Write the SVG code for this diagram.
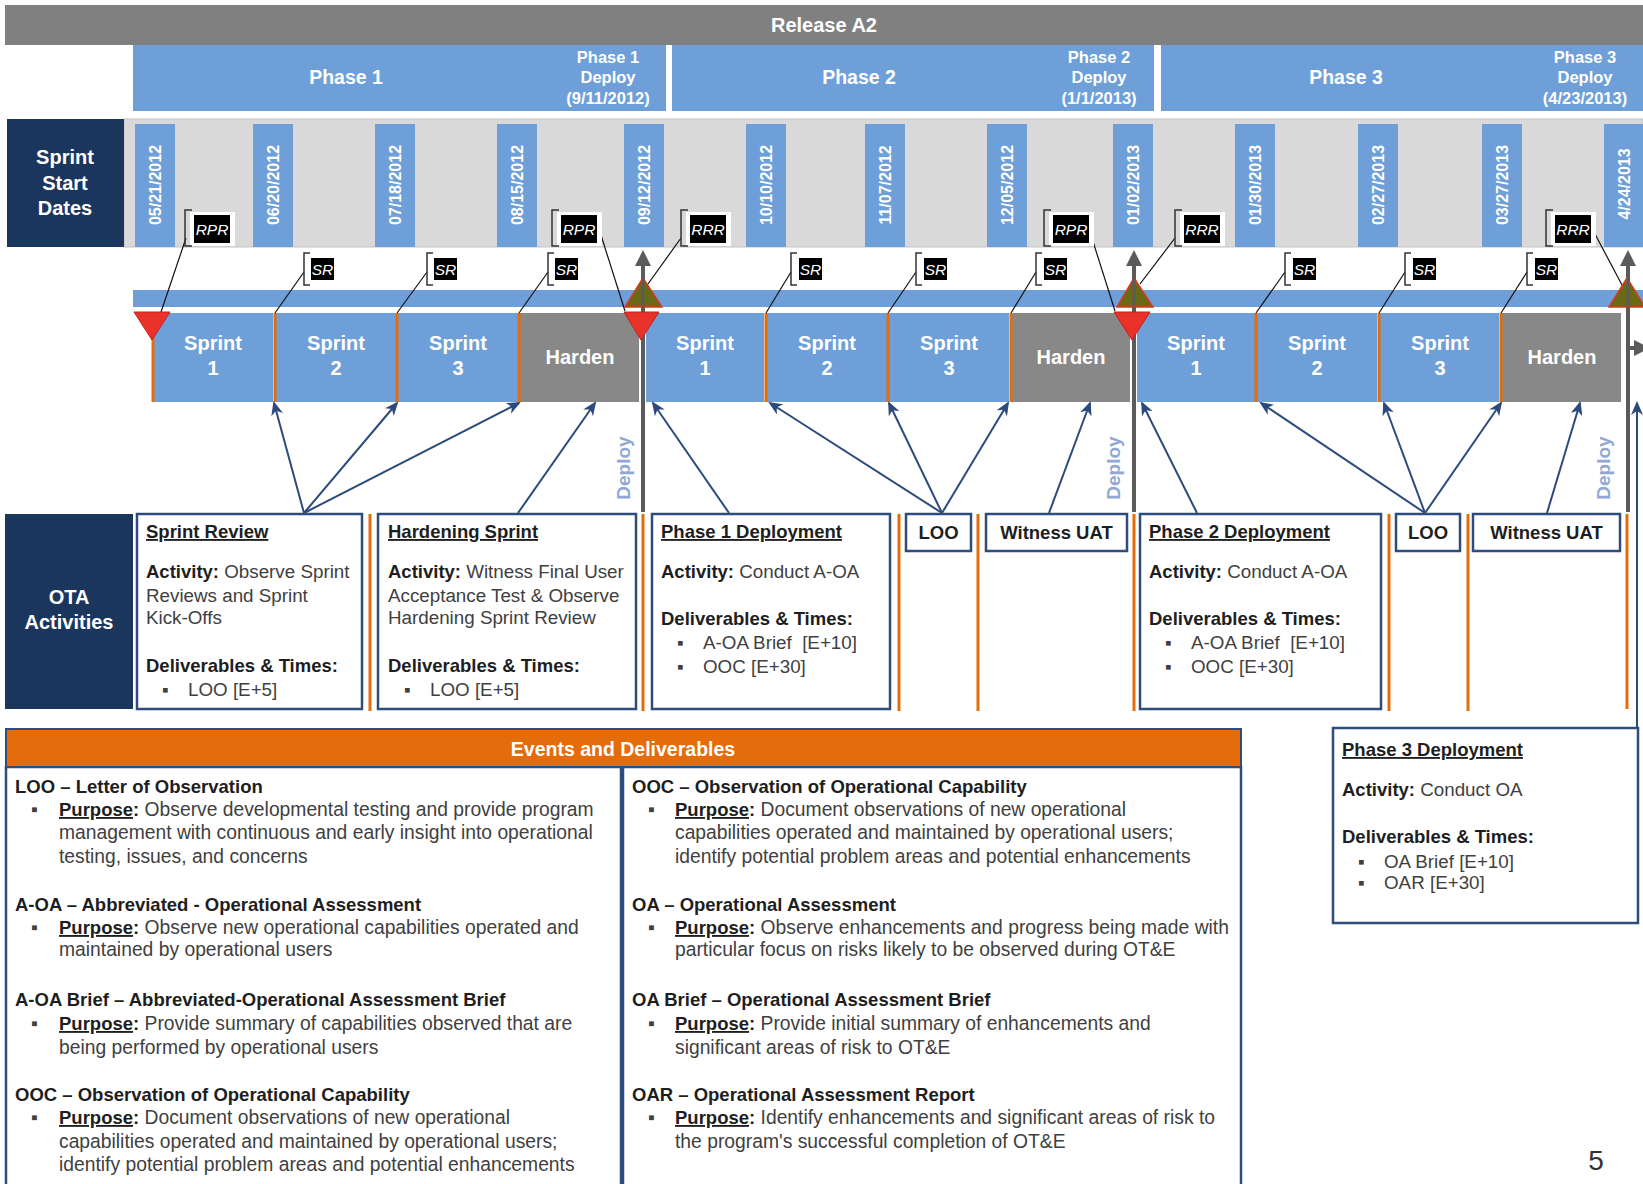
<svg xmlns="http://www.w3.org/2000/svg" width="1643" height="1184" viewBox="0 0 1643 1184">
<defs>
<style>
text{font-family:"Liberation Sans",Arial,"DejaVu Sans",sans-serif}
.wb{fill:#fff;font-weight:bold}
.ph{font-size:19.5px;text-anchor:middle}
.pd{font-size:16.5px;text-anchor:middle}
.hd{font-size:20px;text-anchor:middle}
.dt{font-size:16px;text-anchor:middle}
.sp{font-size:20px;text-anchor:middle}
.lab{fill:#fff;font-style:italic;font-size:15.5px;text-anchor:middle}
.brk{fill:none;stroke:#333;stroke-width:1.5}
.ll{stroke:#111;stroke-width:1.2;fill:none}
.blue{fill:#6e9fd9}
.hard{fill:#888888}
.box{fill:#fff;stroke:#2e4c7d;stroke-width:2.5}
.or{stroke:#e46c0a;stroke-width:3}
.ar{stroke:#2c4a7c;stroke-width:2;fill:none;marker-end:url(#ah)}
.dp{stroke:#5b5b5b;stroke-width:4;marker-end:url(#gh)}
.tx{font-size:18.8px;fill:#404040}
.tl{font-size:19.3px;fill:#404040}
.b{font-weight:bold;fill:#1e1e1e;font-size:18.5px}
.u{text-decoration:underline}
.c{text-anchor:middle}
.dep{font-size:19px;font-weight:bold;fill:#8fa9d4;text-anchor:middle}
.red{fill:#e8322a;stroke:#c8201a;stroke-width:1}
.olv{fill:#6b6a14;stroke:#d83a1f;stroke-width:1.5}
</style>
<marker id="ah" markerWidth="14" markerHeight="12" refX="12" refY="6" orient="auto" markerUnits="userSpaceOnUse"><path d="M0,0 L14,6 L0,12 L4,6 z" fill="#2c4a7c"/></marker>
<marker id="gh" markerWidth="16" markerHeight="16" refX="6" refY="8" orient="auto" markerUnits="userSpaceOnUse"><path d="M0,0 L16,8 L0,16 z" fill="#5b5b5b"/></marker>
</defs>
<rect width="1643" height="1184" fill="#fff"/>

<g id="release">
<rect x="5" y="5" width="1638" height="40" fill="#808080"/>
<text x="824" y="32" class="wb hd">Release A2</text>
</g>

<g id="phase1">
<rect x="133" y="45" width="533" height="66" class="blue"/>
<text x="346" y="84" class="wb ph">Phase 1</text>
<text class="wb pd"><tspan x="608" y="63">Phase 1</tspan><tspan x="608" y="83">Deploy</tspan><tspan x="608" y="104">(9/11/2012)</tspan></text>
</g>
<g id="phase2">
<rect x="672" y="45" width="482" height="66" class="blue"/>
<text x="859" y="84" class="wb ph">Phase 2</text>
<text class="wb pd"><tspan x="1099" y="63">Phase 2</tspan><tspan x="1099" y="83">Deploy</tspan><tspan x="1099" y="104">(1/1/2013)</tspan></text>
</g>
<g id="phase3">
<rect x="1161" y="45" width="482" height="66" class="blue"/>
<text x="1346" y="84" class="wb ph">Phase 3</text>
<text class="wb pd"><tspan x="1585" y="63">Phase 3</tspan><tspan x="1585" y="83">Deploy</tspan><tspan x="1585" y="104">(4/23/2013)</tspan></text>
</g>

<g id="sprint-start-dates">
<rect x="124" y="119" width="1519" height="128" fill="#d9d9d9" stroke="#c4c4c4" stroke-width="1"/>
<rect x="7" y="119" width="117" height="128" fill="#1b365d"/>
<text class="wb hd"><tspan x="65" y="164">Sprint</tspan><tspan x="65" y="190">Start</tspan><tspan x="65" y="215">Dates</tspan></text>
</g>

<g id="dates">
<rect x="135" y="124" width="40" height="123" class="blue"/>
<rect x="253" y="124" width="40" height="123" class="blue"/>
<rect x="375" y="124" width="40" height="123" class="blue"/>
<rect x="497" y="124" width="40" height="123" class="blue"/>
<rect x="624" y="124" width="40" height="123" class="blue"/>
<rect x="746" y="124" width="40" height="123" class="blue"/>
<rect x="865" y="124" width="40" height="123" class="blue"/>
<rect x="987" y="124" width="40" height="123" class="blue"/>
<rect x="1113" y="124" width="40" height="123" class="blue"/>
<rect x="1235" y="124" width="40" height="123" class="blue"/>
<rect x="1358" y="124" width="40" height="123" class="blue"/>
<rect x="1482" y="124" width="40" height="123" class="blue"/>
<rect x="1604" y="124" width="40" height="123" class="blue"/>
<text class="wb dt" transform="translate(161,185) rotate(-90)">05/21/2012</text>
<text class="wb dt" transform="translate(279,185) rotate(-90)">06/20/2012</text>
<text class="wb dt" transform="translate(401,185) rotate(-90)">07/18/2012</text>
<text class="wb dt" transform="translate(523,185) rotate(-90)">08/15/2012</text>
<text class="wb dt" transform="translate(650,185) rotate(-90)">09/12/2012</text>
<text class="wb dt" transform="translate(772,185) rotate(-90)">10/10/2012</text>
<text class="wb dt" transform="translate(891,185) rotate(-90)">11/07/2012</text>
<text class="wb dt" transform="translate(1013,185) rotate(-90)">12/05/2012</text>
<text class="wb dt" transform="translate(1139,185) rotate(-90)">01/02/2013</text>
<text class="wb dt" transform="translate(1261,185) rotate(-90)">01/30/2013</text>
<text class="wb dt" transform="translate(1384,185) rotate(-90)">02/27/2013</text>
<text class="wb dt" transform="translate(1508,185) rotate(-90)">03/27/2013</text>
<text class="wb dt" transform="translate(1630,184) rotate(-90)">4/24/2013</text>
</g>

<g id="timeline">
<rect x="133" y="290" width="1510" height="17" class="blue"/>
</g>

<g id="sprints">
<rect x="152" y="313" width="121" height="89" class="blue"/>
<rect x="275" y="313" width="121" height="89" class="blue"/>
<rect x="398" y="313" width="120" height="89" class="blue"/>
<rect x="520" y="313" width="119" height="89" class="hard"/>
<rect x="646" y="313" width="118" height="89" class="blue"/>
<rect x="767" y="313" width="120" height="89" class="blue"/>
<rect x="889" y="313" width="120" height="89" class="blue"/>
<rect x="1012" y="313" width="118" height="89" class="hard"/>
<rect x="1137" y="313" width="118" height="89" class="blue"/>
<rect x="1257" y="313" width="120" height="89" class="blue"/>
<rect x="1380" y="313" width="119" height="89" class="blue"/>
<rect x="1502" y="313" width="119" height="89" class="hard"/>
<g class="or">
<line x1="153" y1="313" x2="153" y2="402"/>
<line x1="275" y1="313" x2="275" y2="402"/>
<line x1="397" y1="313" x2="397" y2="402"/>
<line x1="519" y1="313" x2="519" y2="402"/>
<line x1="766" y1="313" x2="766" y2="402"/>
<line x1="888" y1="313" x2="888" y2="402"/>
<line x1="1011" y1="313" x2="1011" y2="402"/>
<line x1="1256" y1="313" x2="1256" y2="402"/>
<line x1="1379" y1="313" x2="1379" y2="402"/>
<line x1="1501" y1="313" x2="1501" y2="402"/>
</g>
<text class="wb sp"><tspan x="213" y="350">Sprint</tspan><tspan x="213" y="375">1</tspan></text>
<text class="wb sp"><tspan x="336" y="350">Sprint</tspan><tspan x="336" y="375">2</tspan></text>
<text class="wb sp"><tspan x="458" y="350">Sprint</tspan><tspan x="458" y="375">3</tspan></text>
<text x="580" y="364" class="wb sp">Harden</text>
<text class="wb sp"><tspan x="705" y="350">Sprint</tspan><tspan x="705" y="375">1</tspan></text>
<text class="wb sp"><tspan x="827" y="350">Sprint</tspan><tspan x="827" y="375">2</tspan></text>
<text class="wb sp"><tspan x="949" y="350">Sprint</tspan><tspan x="949" y="375">3</tspan></text>
<text x="1071" y="364" class="wb sp">Harden</text>
<text class="wb sp"><tspan x="1196" y="350">Sprint</tspan><tspan x="1196" y="375">1</tspan></text>
<text class="wb sp"><tspan x="1317" y="350">Sprint</tspan><tspan x="1317" y="375">2</tspan></text>
<text class="wb sp"><tspan x="1440" y="350">Sprint</tspan><tspan x="1440" y="375">3</tspan></text>
<text x="1562" y="364" class="wb sp">Harden</text>
</g>

<g id="connectors">
<g class="dp">
<line x1="643" y1="512" x2="643" y2="260"/>
<line x1="1134" y1="512" x2="1134" y2="260"/>
<line x1="1628" y1="512" x2="1628" y2="260"/>
<line x1="1630" y1="348" x2="1640" y2="348"/>
</g>
<g class="ll">
<line x1="186" y1="238" x2="161" y2="312"/>
<line x1="600" y1="232" x2="625" y2="311"/>
<line x1="681" y1="238" x2="648" y2="284"/>
<line x1="1090" y1="232" x2="1115" y2="311"/>
<line x1="1175" y1="238" x2="1140" y2="284"/>
<line x1="1595" y1="234" x2="1622" y2="285"/>
<line x1="304" y1="272" x2="275" y2="313"/>
<line x1="427" y1="272" x2="397" y2="313"/>
<line x1="548" y1="272" x2="519" y2="313"/>
<line x1="791" y1="272" x2="766" y2="313"/>
<line x1="916" y1="272" x2="888" y2="313"/>
<line x1="1036" y1="272" x2="1011" y2="313"/>
<line x1="1285" y1="272" x2="1256" y2="313"/>
<line x1="1405" y1="272" x2="1379" y2="313"/>
<line x1="1527" y1="272" x2="1501" y2="313"/>
</g>
<g class="ar">
<line x1="304" y1="513" x2="274" y2="403"/>
<line x1="304" y1="513" x2="397" y2="403"/>
<line x1="304" y1="513" x2="519" y2="403"/>
<line x1="518" y1="513" x2="595" y2="403"/>
<line x1="729" y1="513" x2="653" y2="403"/>
<line x1="942" y1="513" x2="770" y2="403"/>
<line x1="942" y1="513" x2="889" y2="403"/>
<line x1="942" y1="513" x2="1008" y2="403"/>
<line x1="1049" y1="513" x2="1090" y2="403"/>
<line x1="1197" y1="513" x2="1142" y2="403"/>
<line x1="1425" y1="513" x2="1261" y2="403"/>
<line x1="1425" y1="513" x2="1384" y2="403"/>
<line x1="1425" y1="513" x2="1501" y2="403"/>
<line x1="1547" y1="513" x2="1580" y2="403"/>
<line x1="1637" y1="728" x2="1637" y2="403"/>
</g>
</g>

<g id="milestones">
<polygon points="134,312 170,312 152,340" class="red"/>
<polygon points="624,312 659,312 641,340" class="red"/>
<polygon points="1114,312 1150,312 1132,340" class="red"/>
<polygon points="625,307 662,307 643,278" class="olv"/>
<polygon points="1117,307 1153,307 1134,278" class="olv"/>
<polygon points="1609,307 1645,307 1627,278" class="olv"/>
<line x1="643" y1="278" x2="643" y2="307" stroke="#5b5b5b" stroke-width="3"/>
<line x1="1134" y1="278" x2="1134" y2="307" stroke="#5b5b5b" stroke-width="3"/>
<line x1="1628" y1="278" x2="1628" y2="307" stroke="#5b5b5b" stroke-width="3"/>
</g>

<g id="deploy-labels">
<text class="dep" transform="translate(630,468) rotate(-90)">Deploy</text>
<text class="dep" transform="translate(1120,468) rotate(-90)">Deploy</text>
<text class="dep" transform="translate(1610,468) rotate(-90)">Deploy</text>
</g>

<g id="review-labels">
<g id="rpr1"><rect x="190" y="212" width="45" height="34" fill="#fff"/><rect x="194" y="215" width="36" height="28" fill="#000"/><path d="M192 210 H185 V246 H192" class="brk"/><text x="212" y="235" class="lab">RPR</text></g>
<g id="rpr2"><rect x="557" y="212" width="45" height="34" fill="#fff"/><rect x="561" y="215" width="36" height="28" fill="#000"/><path d="M559 210 H552 V246 H559" class="brk"/><text x="579" y="235" class="lab">RPR</text></g>
<g id="rrr1"><rect x="686" y="212" width="45" height="34" fill="#fff"/><rect x="690" y="215" width="36" height="28" fill="#000"/><path d="M688 210 H681 V246 H688" class="brk"/><text x="708" y="235" class="lab">RRR</text></g>
<g id="rpr3"><rect x="1049" y="212" width="45" height="34" fill="#fff"/><rect x="1053" y="215" width="36" height="28" fill="#000"/><path d="M1051 210 H1044 V246 H1051" class="brk"/><text x="1071" y="235" class="lab">RPR</text></g>
<g id="rrr2"><rect x="1180" y="212" width="45" height="34" fill="#fff"/><rect x="1184" y="215" width="36" height="28" fill="#000"/><path d="M1182 210 H1175 V246 H1182" class="brk"/><text x="1202" y="235" class="lab">RRR</text></g>
<g id="rrr3"><rect x="1551" y="212" width="45" height="34" fill="#fff"/><rect x="1555" y="215" width="36" height="28" fill="#000"/><path d="M1553 210 H1546 V246 H1553" class="brk"/><text x="1573" y="235" class="lab">RRR</text></g>
<g id="sr1"><rect x="311" y="258" width="23" height="22" fill="#000"/><path d="M310 253 H304 V285 H310" class="brk"/><text x="322.5" y="275" class="lab">SR</text></g>
<g id="sr2"><rect x="434" y="258" width="23" height="22" fill="#000"/><path d="M433 253 H427 V285 H433" class="brk"/><text x="445.5" y="275" class="lab">SR</text></g>
<g id="sr3"><rect x="555" y="258" width="23" height="22" fill="#000"/><path d="M554 253 H548 V285 H554" class="brk"/><text x="566.5" y="275" class="lab">SR</text></g>
<g id="sr4"><rect x="799" y="258" width="23" height="22" fill="#000"/><path d="M797 253 H791 V285 H797" class="brk"/><text x="810.5" y="275" class="lab">SR</text></g>
<g id="sr5"><rect x="924" y="258" width="23" height="22" fill="#000"/><path d="M922 253 H916 V285 H922" class="brk"/><text x="935.5" y="275" class="lab">SR</text></g>
<g id="sr6"><rect x="1044" y="258" width="23" height="22" fill="#000"/><path d="M1042 253 H1036 V285 H1042" class="brk"/><text x="1055.5" y="275" class="lab">SR</text></g>
<g id="sr7"><rect x="1293" y="258" width="23" height="22" fill="#000"/><path d="M1291 253 H1285 V285 H1291" class="brk"/><text x="1304.5" y="275" class="lab">SR</text></g>
<g id="sr8"><rect x="1413" y="258" width="23" height="22" fill="#000"/><path d="M1411 253 H1405 V285 H1411" class="brk"/><text x="1424.5" y="275" class="lab">SR</text></g>
<g id="sr9"><rect x="1535" y="258" width="23" height="22" fill="#000"/><path d="M1533 253 H1527 V285 H1533" class="brk"/><text x="1546.5" y="275" class="lab">SR</text></g>
</g>

<g id="ota-activities">
<rect x="5" y="514" width="128" height="195" fill="#1b365d"/>
<text class="wb hd"><tspan x="69" y="604">OTA</tspan><tspan x="69" y="629">Activities</tspan></text>
<g class="or">
<line x1="370" y1="514" x2="370" y2="711"/>
<line x1="643" y1="514" x2="643" y2="711"/>
<line x1="899" y1="514" x2="899" y2="711"/>
<line x1="978" y1="514" x2="978" y2="711"/>
<line x1="1134" y1="514" x2="1134" y2="711"/>
<line x1="1389" y1="514" x2="1389" y2="711"/>
<line x1="1468" y1="514" x2="1468" y2="711"/>
<line x1="1627" y1="514" x2="1627" y2="709"/>
</g>
</g>

<g id="sprint-review">
<rect x="137" y="514" width="225" height="195" class="box"/>
<text class="tx"><tspan x="146" y="538" class="b u">Sprint Review</tspan></text>
<text class="tx"><tspan x="146" y="578" class="b">Activity:</tspan> Observe Sprint</text>
<text class="tx" x="146" y="602">Reviews and Sprint</text>
<text class="tx" x="146" y="624">Kick-Offs</text>
<text class="tx"><tspan x="146" y="672" class="b">Deliverables &amp; Times:</tspan></text>
<text class="tx"><tspan x="162" y="696">▪</tspan><tspan x="188" y="696">LOO [E+5]</tspan></text>
</g>

<g id="hardening-sprint">
<rect x="378" y="514" width="258" height="195" class="box"/>
<text class="tx"><tspan x="388" y="538" class="b u">Hardening Sprint</tspan></text>
<text class="tx"><tspan x="388" y="578" class="b">Activity:</tspan> Witness Final User</text>
<text class="tx" x="388" y="602">Acceptance Test &amp; Observe</text>
<text class="tx" x="388" y="624">Hardening Sprint Review</text>
<text class="tx"><tspan x="388" y="672" class="b">Deliverables &amp; Times:</tspan></text>
<text class="tx"><tspan x="404" y="696">▪</tspan><tspan x="430" y="696">LOO [E+5]</tspan></text>
</g>

<g id="phase1-deployment">
<rect x="652" y="514" width="238" height="195" class="box"/>
<text class="tx"><tspan x="661" y="538" class="b u">Phase 1 Deployment</tspan></text>
<text class="tx"><tspan x="661" y="578" class="b">Activity:</tspan> Conduct A-OA</text>
<text class="tx"><tspan x="661" y="625" class="b">Deliverables &amp; Times:</tspan></text>
<text class="tx"><tspan x="677" y="649">▪</tspan><tspan x="703" y="649">A-OA Brief&#160; [E+10]</tspan></text>
<text class="tx"><tspan x="677" y="673">▪</tspan><tspan x="703" y="673">OOC [E+30]</tspan></text>
</g>

<g id="loo1">
<rect x="906" y="514" width="65" height="37" class="box"/>
<text x="938.5" y="539" class="tx b c">LOO</text>
</g>
<g id="witness-uat1">
<rect x="986" y="514" width="141" height="37" class="box"/>
<text x="1056.5" y="539" class="tx b c">Witness UAT</text>
</g>

<g id="phase2-deployment">
<rect x="1140" y="514" width="241" height="195" class="box"/>
<text class="tx"><tspan x="1149" y="538" class="b u">Phase 2 Deployment</tspan></text>
<text class="tx"><tspan x="1149" y="578" class="b">Activity:</tspan> Conduct A-OA</text>
<text class="tx"><tspan x="1149" y="625" class="b">Deliverables &amp; Times:</tspan></text>
<text class="tx"><tspan x="1165" y="649">▪</tspan><tspan x="1191" y="649">A-OA Brief&#160; [E+10]</tspan></text>
<text class="tx"><tspan x="1165" y="673">▪</tspan><tspan x="1191" y="673">OOC [E+30]</tspan></text>
</g>

<g id="loo2">
<rect x="1396" y="514" width="64" height="37" class="box"/>
<text x="1428" y="539" class="tx b c">LOO</text>
</g>
<g id="witness-uat2">
<rect x="1473" y="514" width="147" height="37" class="box"/>
<text x="1546.5" y="539" class="tx b c">Witness UAT</text>
</g>

<g id="phase3-deployment">
<rect x="1333" y="728" width="305" height="195" class="box"/>
<text class="tx"><tspan x="1342" y="756" class="b u">Phase 3 Deployment</tspan></text>
<text class="tx"><tspan x="1342" y="796" class="b">Activity:</tspan> Conduct OA</text>
<text class="tx"><tspan x="1342" y="843" class="b">Deliverables &amp; Times:</tspan></text>
<text class="tx"><tspan x="1358" y="868">▪</tspan><tspan x="1384" y="868">OA Brief [E+10]</tspan></text>
<text class="tx"><tspan x="1358" y="889">▪</tspan><tspan x="1384" y="889">OAR [E+30]</tspan></text>
</g>

<g id="events-deliverables">
<rect x="6" y="767" width="615" height="430" class="box"/>
<rect x="623" y="767" width="618" height="430" class="box"/>
<rect x="6" y="729" width="1235" height="38" fill="#e46c0a" stroke="#2e4c7d" stroke-width="2"/>
<text x="623" y="756" class="wb c" font-size="19.5">Events and Deliverables</text>

<text class="tl b" x="15" y="793">LOO – Letter of Observation</text>
<text class="tl"><tspan x="31" y="816">▪</tspan><tspan x="59" y="816" class="b u">Purpose</tspan><tspan class="b">:</tspan> Observe developmental testing and provide program</text>
<text class="tl" x="59" y="839">management with continuous and early insight into operational</text>
<text class="tl" x="59" y="863">testing, issues, and concerns</text>

<text class="tl b" x="15" y="911">A-OA – Abbreviated - Operational Assessment</text>
<text class="tl"><tspan x="31" y="934">▪</tspan><tspan x="59" y="934" class="b u">Purpose</tspan><tspan class="b">:</tspan> Observe new operational capabilities operated and</text>
<text class="tl" x="59" y="956">maintained by operational users</text>

<text class="tl b" x="15" y="1006">A-OA Brief – Abbreviated-Operational Assessment Brief</text>
<text class="tl"><tspan x="31" y="1030">▪</tspan><tspan x="59" y="1030" class="b u">Purpose</tspan><tspan class="b">:</tspan> Provide summary of capabilities observed that are</text>
<text class="tl" x="59" y="1054">being performed by operational users</text>

<text class="tl b" x="15" y="1101">OOC – Observation of Operational Capability</text>
<text class="tl"><tspan x="31" y="1124">▪</tspan><tspan x="59" y="1124" class="b u">Purpose</tspan><tspan class="b">:</tspan> Document observations of new operational</text>
<text class="tl" x="59" y="1148">capabilities operated and maintained by operational users;</text>
<text class="tl" x="59" y="1171">identify potential problem areas and potential enhancements</text>

<text class="tl b" x="632" y="793">OOC – Observation of Operational Capability</text>
<text class="tl"><tspan x="648" y="816">▪</tspan><tspan x="675" y="816" class="b u">Purpose</tspan><tspan class="b">:</tspan> Document observations of new operational</text>
<text class="tl" x="675" y="839">capabilities operated and maintained by operational users;</text>
<text class="tl" x="675" y="863">identify potential problem areas and potential enhancements</text>

<text class="tl b" x="632" y="911">OA – Operational Assessment</text>
<text class="tl"><tspan x="648" y="934">▪</tspan><tspan x="675" y="934" class="b u">Purpose</tspan><tspan class="b">:</tspan> Observe enhancements and progress being made with</text>
<text class="tl" x="675" y="956">particular focus on risks likely to be observed during OT&amp;E</text>

<text class="tl b" x="632" y="1006">OA Brief – Operational Assessment Brief</text>
<text class="tl"><tspan x="648" y="1030">▪</tspan><tspan x="675" y="1030" class="b u">Purpose</tspan><tspan class="b">:</tspan> Provide initial summary of enhancements and</text>
<text class="tl" x="675" y="1054">significant areas of risk to OT&amp;E</text>

<text class="tl b" x="632" y="1101">OAR – Operational Assessment Report</text>
<text class="tl"><tspan x="648" y="1124">▪</tspan><tspan x="675" y="1124" class="b u">Purpose</tspan><tspan class="b">:</tspan> Identify enhancements and significant areas of risk to</text>
<text class="tl" x="675" y="1148">the program's successful completion of OT&amp;E</text>
</g>

<text x="1596" y="1170" font-size="28" fill="#333" text-anchor="middle">5</text>
</svg>
